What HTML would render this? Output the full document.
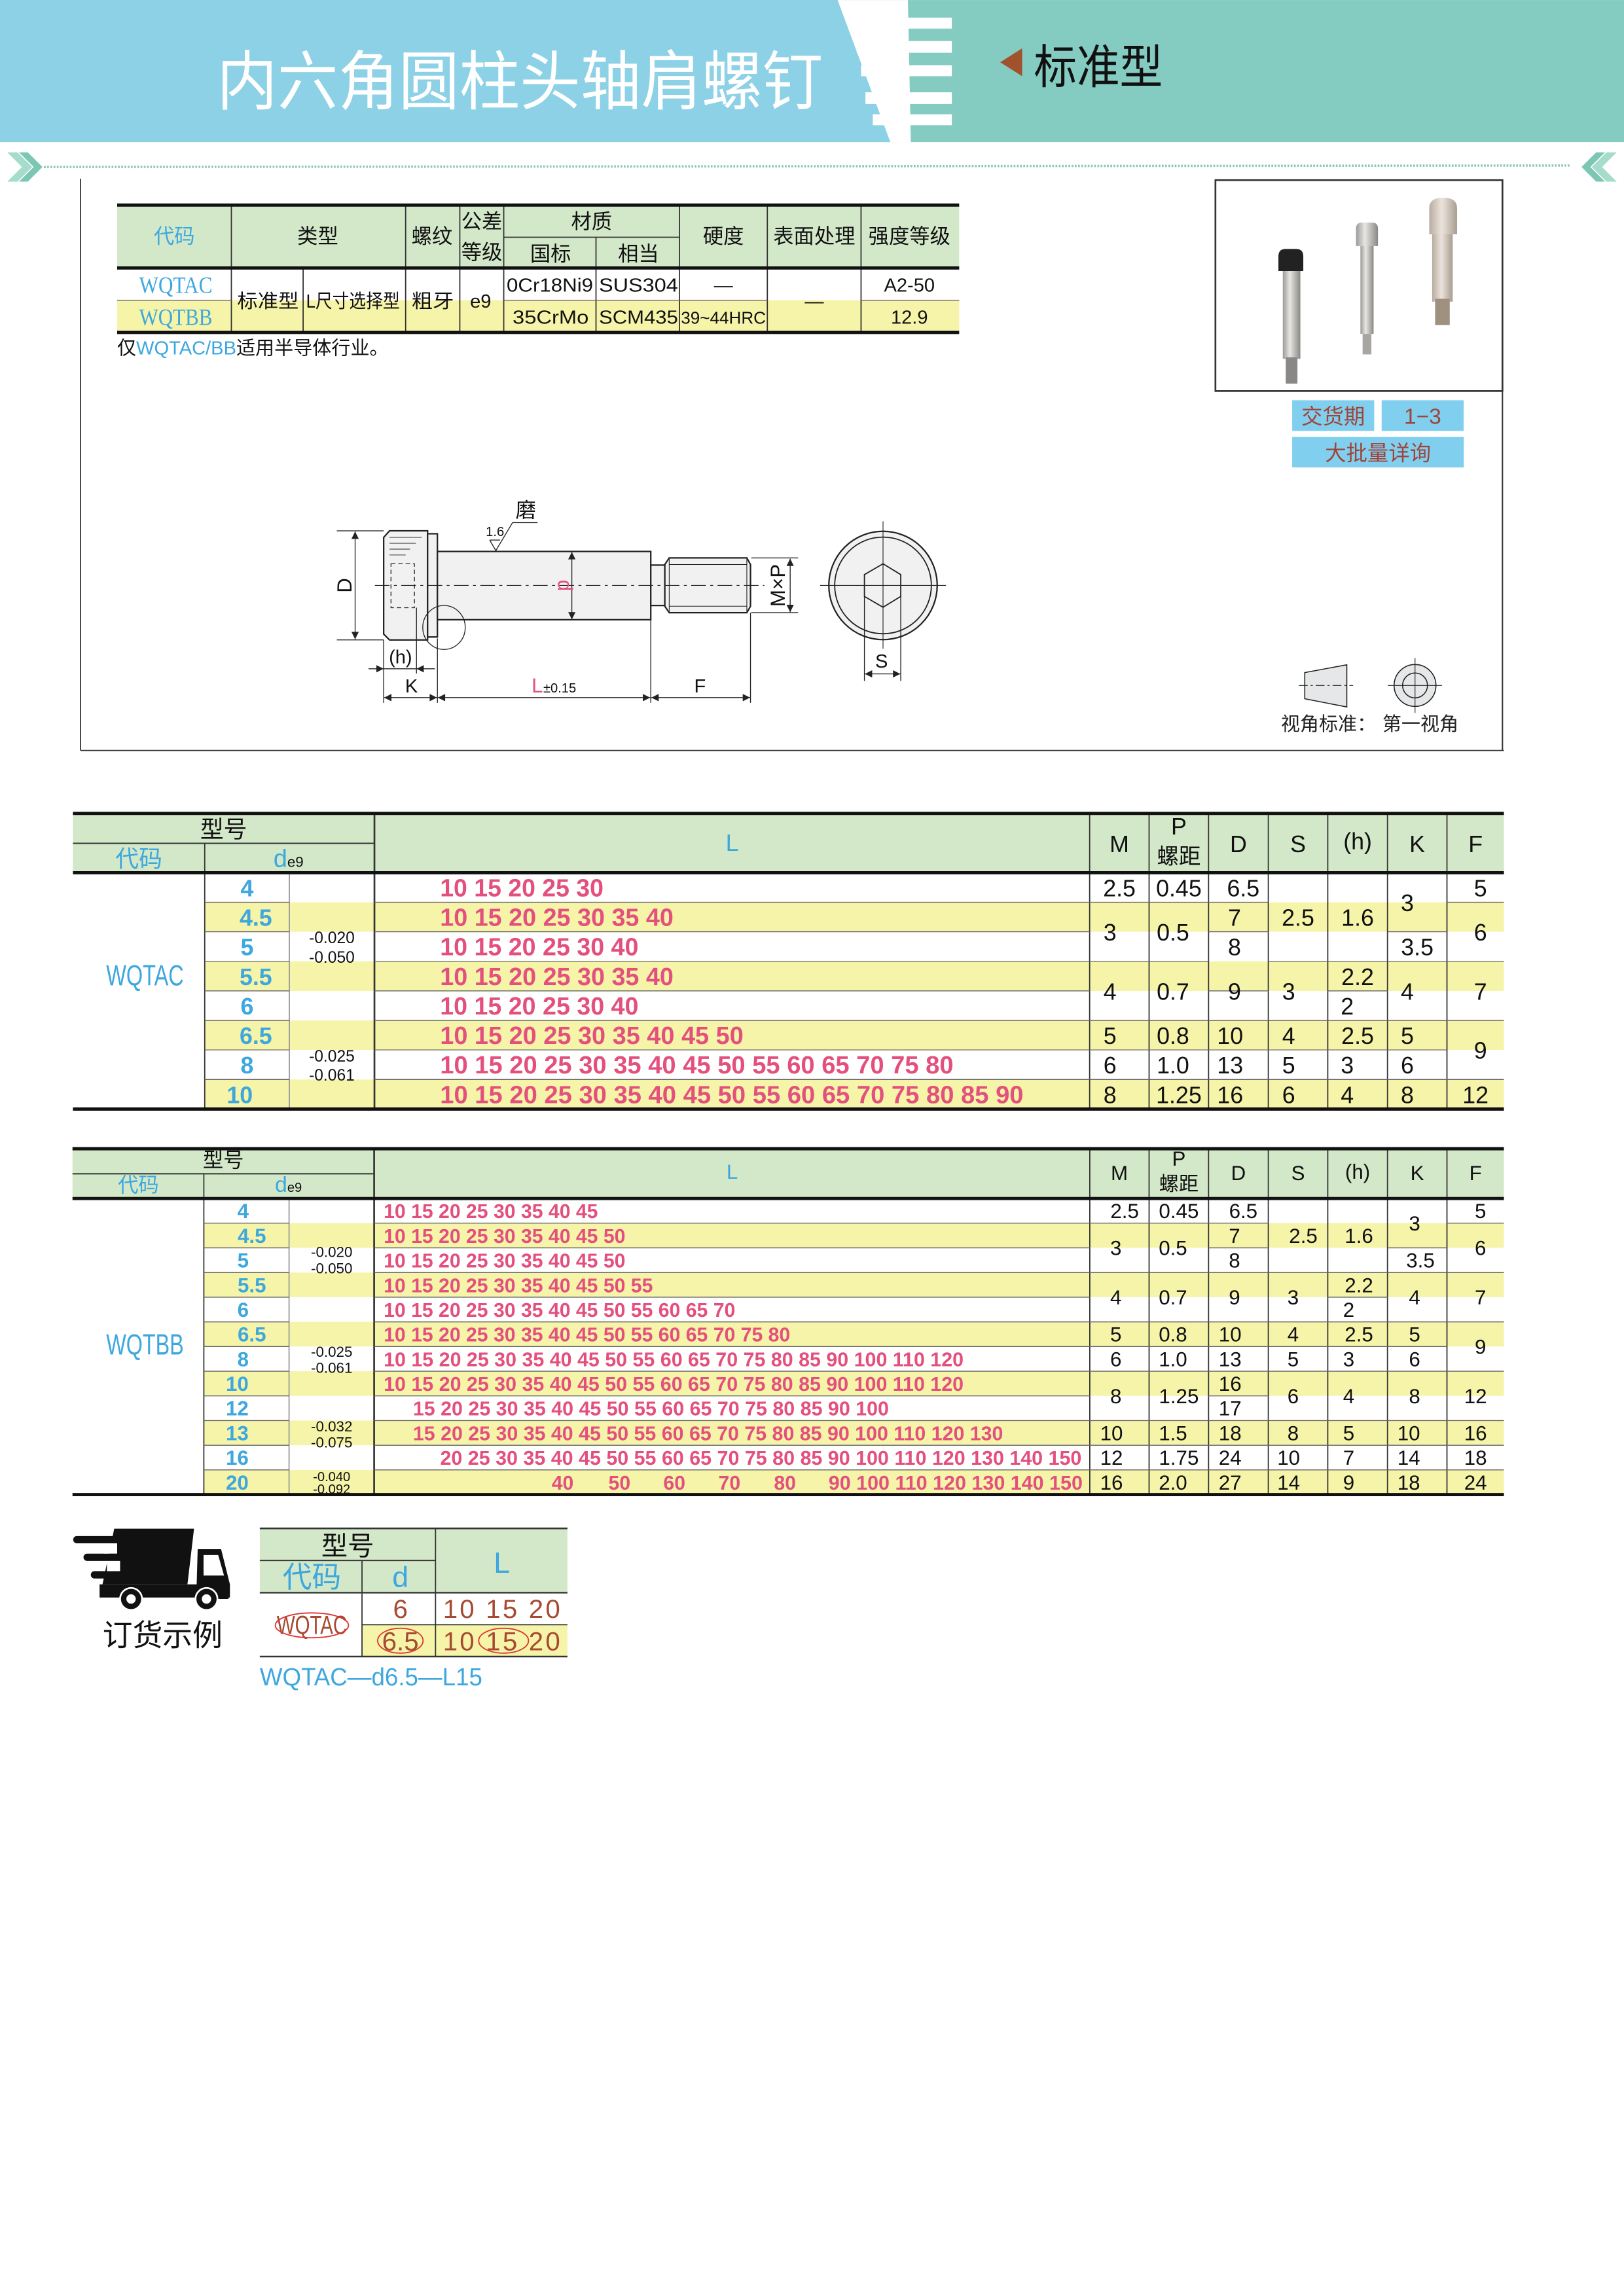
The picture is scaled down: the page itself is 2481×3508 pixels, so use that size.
<!DOCTYPE html>
<html><head><meta charset="utf-8">
<style>
html,body{margin:0;padding:0;background:#fff;width:2481px;height:3508px;overflow:hidden}
svg{display:block}
text{font-family:"Liberation Sans","Noto Sans CJK SC",sans-serif}
.b{fill:#3ea7de}
.pk{fill:#e4507e;font-weight:bold}
.br{fill:#a64a32}
.c{text-anchor:middle}
.tl{stroke:#666;stroke-width:0.6}
.tv{stroke:#333;stroke-width:0.8}
.th{stroke:#111;stroke-width:2.2}
.dl{stroke:#222;stroke-width:0.8;fill:none}
</style></head><body>
<svg width="2481" height="3508" viewBox="0 0 1109 1568" xmlns="http://www.w3.org/2000/svg">
<defs>
<marker id="ar" viewBox="0 0 10 10" refX="10" refY="5" markerWidth="7" markerHeight="5" orient="auto-start-reverse" markerUnits="userSpaceOnUse"><path d="M0,0 L10,5 L0,10 z" fill="#222"/></marker>
<linearGradient id="met" x1="0" x2="1"><stop offset="0" stop-color="#9a9a98"/><stop offset="0.4" stop-color="#e8e6e2"/><stop offset="1" stop-color="#8a8886"/></linearGradient>
<linearGradient id="met2" x1="0" x2="1"><stop offset="0" stop-color="#b8aca0"/><stop offset="0.45" stop-color="#ece4dc"/><stop offset="1" stop-color="#a89c90"/></linearGradient>
</defs>

<!-- HEADER -->
<rect x="0" y="0" width="1109" height="97" fill="#84cbc1"/>
<polygon points="0,0 572,0 608,97 0,97" fill="#8dd1e6"/>
<polygon points="572,0 620,0 622,97 608,97" fill="#fff"/>
<g fill="#fff">
<rect x="583" y="12" width="67" height="7.5"/>
<rect x="585" y="28" width="65" height="8"/>
<rect x="588" y="44.5" width="62" height="7.5"/>
<rect x="591" y="63" width="59" height="8"/>
<rect x="596" y="78" width="54" height="7.5"/>
</g>
<text x="148" y="71" font-size="44" fill="#fff" textLength="414" lengthAdjust="spacingAndGlyphs">内六角圆柱头轴肩螺钉</text>
<polygon points="698,33 683,42.5 698,52" fill="#a0522d"/>
<text x="706" y="57" font-size="32" fill="#111" textLength="88" lengthAdjust="spacingAndGlyphs">标准型</text>

<!-- dotted separator -->
<line x1="30" y1="114" x2="1072" y2="113" stroke="#8cc8b0" stroke-width="1.6" stroke-dasharray="1.2,1"/>
<polygon points="5,104 12,104 22,114 12,124 5,124 15,114" fill="#a6dccb"/>
<polygon points="13,104 19,104 29,114 19,124 13,124 23,114" fill="#7cc6b4"/>
<polygon points="1104,104 1097,104 1087,114 1097,124 1104,124 1094,114" fill="#a6dccb"/>
<polygon points="1096,104 1090,104 1080,114 1090,124 1096,124 1086,114" fill="#7cc6b4"/>

<!-- frame -->
<line x1="55" y1="122" x2="55" y2="512.5" stroke="#333" stroke-width="0.8"/>
<line x1="55" y1="512.5" x2="1027" y2="512.5" stroke="#333" stroke-width="0.8"/>
<line x1="1026" y1="123" x2="1026" y2="512.5" stroke="#333" stroke-width="0.9"/>
<rect x="830" y="123" width="196" height="144" fill="none" stroke="#333" stroke-width="1.2"/>

<!-- photos -->
<rect x="876" y="185" width="12" height="60" fill="url(#met)"/>
<rect x="878" y="244" width="8" height="18" fill="#8a8886"/>
<path d="M873,185 L873,175 Q873,170 878,170 L885,170 Q890,170 890,175 L890,185 Z" fill="#222"/>
<rect x="929" y="166" width="9" height="62" fill="url(#met)"/>
<rect x="930.5" y="228" width="6" height="14" fill="#a8a6a2"/>
<path d="M926,168 L926,156 Q926,152 930,152 L937,152 Q941,152 941,156 L941,168 Z" fill="url(#met)"/>
<rect x="978" y="158" width="14" height="48" fill="url(#met2)"/>
<rect x="980" y="204" width="10" height="18" fill="#a09080"/>
<path d="M976,160 L976,142 Q976,135 985.5,135 Q995,135 995,142 L995,160 Z" fill="url(#met2)"/>

<!-- delivery -->
<rect x="882.4" y="273.3" width="56" height="21" fill="#80cfee"/>
<rect x="943.5" y="273.3" width="56" height="21" fill="#80cfee"/>
<rect x="882.4" y="298.4" width="117.2" height="20.8" fill="#80cfee"/>
<text x="910.4" y="289.5" font-size="14.5" class="c" fill="#a0443a">交货期</text>
<text x="971.5" y="289.5" font-size="15" class="c" fill="#a0443a">1−3</text>
<text x="941" y="314.5" font-size="14.5" class="c" fill="#a0443a">大批量详询</text>

<!-- view symbol -->
<polygon points="891,459.3 919.7,454 919.7,482.8 891,477.2" fill="#e6e7e8" stroke="#222" stroke-width="0.7"/>
<line x1="887" y1="468.1" x2="924" y2="468.1" stroke="#222" stroke-width="0.5" stroke-dasharray="6,2,1.5,2"/>
<circle cx="966.3" cy="468.1" r="14.3" fill="#e6e7e8" stroke="#222" stroke-width="0.7"/>
<circle cx="966.3" cy="468.1" r="8.5" fill="none" stroke="#222" stroke-width="0.7"/>
<line x1="947.7" y1="468.1" x2="984.7" y2="468.1" stroke="#222" stroke-width="0.5"/>
<line x1="966.3" y1="449.3" x2="966.3" y2="486.8" stroke="#222" stroke-width="0.5"/>
<text x="874.7" y="498.8" font-size="13" fill="#222">视角标准：</text>
<text x="944" y="498.8" font-size="13" fill="#222">第一视角</text>

<!-- TOP TABLE -->
<rect x="80" y="140" width="575" height="43" fill="#d3e8c9"/>
<rect x="80" y="205" width="575" height="22" fill="#f6f4a9"/>
<g class="tv">
<line x1="158" y1="140" x2="158" y2="227"/><line x1="277" y1="140" x2="277" y2="227"/>
<line x1="314" y1="140" x2="314" y2="227"/><line x1="344" y1="140" x2="344" y2="227"/>
<line x1="464" y1="140" x2="464" y2="227"/><line x1="524" y1="140" x2="524" y2="227"/>
<line x1="588" y1="140" x2="588" y2="227"/><line x1="207" y1="183" x2="207" y2="227"/>
<line x1="407" y1="162" x2="407" y2="227"/>
<line x1="344" y1="162" x2="464" y2="162"/>
</g>
<g class="tl">
<line x1="80" y1="205" x2="158" y2="205"/><line x1="344" y1="205" x2="524" y2="205"/><line x1="588" y1="205" x2="655" y2="205"/>
</g>
<g class="th"><line x1="80" y1="140" x2="655" y2="140"/><line x1="80" y1="183" x2="655" y2="183"/><line x1="80" y1="227" x2="655" y2="227"/></g>
<g font-size="14" class="c" fill="#111">
<text x="119" y="166" class="b">代码</text>
<text x="217" y="166">类型</text><text x="295" y="166">螺纹</text>
<text x="329" y="156">公差</text><text x="329" y="177">等级</text>
<text x="404" y="156">材质</text><text x="376" y="178">国标</text><text x="436" y="178">相当</text>
<text x="494" y="166">硬度</text><text x="556" y="166">表面处理</text><text x="621" y="166">强度等级</text>
</g>
<text x="95" y="200" font-size="16" class="b" font-family="Liberation Serif" textLength="50" lengthAdjust="spacingAndGlyphs" style="font-family:'Liberation Serif',serif">WQTAC</text>
<text x="95" y="222" font-size="16" class="b" textLength="50" lengthAdjust="spacingAndGlyphs" style="font-family:'Liberation Serif',serif">WQTBB</text>
<g font-size="13" fill="#111">
<text x="162" y="210" textLength="42" lengthAdjust="spacingAndGlyphs">标准型</text>
<text x="209" y="210" textLength="64" lengthAdjust="spacingAndGlyphs">L尺寸选择型</text>
<text x="281" y="210" textLength="29" lengthAdjust="spacingAndGlyphs">粗牙</text>
<text x="321" y="210">e9</text>
<text x="346" y="199" textLength="59" lengthAdjust="spacingAndGlyphs">0Cr18Ni9</text>
<text x="409" y="199" textLength="54" lengthAdjust="spacingAndGlyphs">SUS304</text>
<text x="494" y="199" class="c">—</text>
<text x="556" y="210" class="c">—</text>
<text x="621" y="199" class="c">A2-50</text>
<text x="350" y="221" textLength="52" lengthAdjust="spacingAndGlyphs">35CrMo</text>
<text x="409" y="221" textLength="54" lengthAdjust="spacingAndGlyphs">SCM435</text>
<text x="465" y="221" font-size="11.5" textLength="58" lengthAdjust="spacingAndGlyphs">39~44HRC</text>
<text x="621" y="221" class="c">12.9</text>
</g>
<text x="80" y="242" font-size="13" fill="#111">仅<tspan class="b">WQTAC/BB</tspan>适用半导体行业。</text>

<!-- DRAWING -->
<g class="dl">
<polygon points="262,367 266,362.5 292,362.5 292,437 266,437 262,433" fill="#f1f1f1" stroke-width="1"/>
<rect x="292" y="364.5" width="6.7" height="70.5" fill="#f1f1f1" stroke-width="1"/>
<rect x="267" y="385" width="16" height="30" stroke-dasharray="3,2" stroke-width="0.6"/>
<line x1="266" y1="367" x2="288" y2="367" stroke-width="0.4"/>
<line x1="266" y1="371" x2="284" y2="371" stroke-width="0.4"/>
<line x1="266" y1="375" x2="280" y2="375" stroke-width="0.4"/>
<line x1="266" y1="379" x2="277" y2="379" stroke-width="0.4"/>
<rect x="298.7" y="376.6" width="145.7" height="46.6" fill="#f1f1f1" stroke-width="1"/>
<rect x="444.4" y="385.9" width="9.6" height="27.6" fill="#f1f1f1" stroke-width="1"/>
<polygon points="454,385.5 457,381 510,381 512.5,385.5 512.5,414 510,418.4 457,418.4 454,414" fill="#f1f1f1" stroke-width="1"/>
<line x1="457" y1="385.5" x2="510" y2="385.5" stroke-width="0.4"/>
<line x1="457" y1="414" x2="510" y2="414" stroke-width="0.4"/>
<line x1="457" y1="381" x2="457" y2="418.4" stroke-width="0.5"/>
<line x1="510" y1="381" x2="510" y2="418.4" stroke-width="0.5"/>
<line x1="256" y1="399.8" x2="522" y2="399.8" stroke-width="0.5" stroke-dasharray="10,3,2,3"/>
<ellipse cx="303.2" cy="428.5" rx="14.5" ry="15" stroke-width="0.6"/>
<!-- roughness -->
<polyline points="334.4,368.8 338.6,376 350,356.9 367.1,356.9" stroke-width="0.6"/>
<line x1="334.4" y1="368.8" x2="341.5" y2="368.8" stroke-width="0.6"/>
<!-- d -->
<line x1="390.5" y1="377" x2="390.5" y2="423" marker-start="url(#ar)" marker-end="url(#ar)" stroke-width="0.6"/>
<!-- D -->
<line x1="230" y1="362.5" x2="262" y2="362.5" stroke-width="0.6"/>
<line x1="230" y1="437" x2="262" y2="437" stroke-width="0.6"/>
<line x1="242.5" y1="363" x2="242.5" y2="436.5" marker-start="url(#ar)" marker-end="url(#ar)" stroke-width="0.6"/>
<!-- MxP -->
<line x1="513" y1="381" x2="545" y2="381" stroke-width="0.6"/>
<line x1="513" y1="418.4" x2="545" y2="418.4" stroke-width="0.6"/>
<line x1="539.6" y1="381.5" x2="539.6" y2="418" marker-start="url(#ar)" marker-end="url(#ar)" stroke-width="0.6"/>
<!-- extension -->
<line x1="262" y1="437" x2="262" y2="480" stroke-width="0.6"/>
<line x1="298.7" y1="436" x2="298.7" y2="480" stroke-width="0.6"/>
<line x1="444.4" y1="423" x2="444.4" y2="480" stroke-width="0.6"/>
<line x1="512.5" y1="418.4" x2="512.5" y2="480" stroke-width="0.6"/>
<line x1="284.4" y1="415" x2="284.4" y2="460" stroke-width="0.6"/>
<line x1="251.7" y1="456.7" x2="262" y2="456.7" marker-end="url(#ar)" stroke-width="0.6"/>
<line x1="262" y1="456.7" x2="284.4" y2="456.7" stroke-width="0.6"/>
<line x1="297" y1="456.7" x2="284.4" y2="456.7" marker-end="url(#ar)" stroke-width="0.6"/>
<line x1="262.3" y1="476.4" x2="298.4" y2="476.4" marker-start="url(#ar)" marker-end="url(#ar)" stroke-width="0.6"/>
<line x1="299" y1="476.4" x2="444" y2="476.4" marker-start="url(#ar)" marker-end="url(#ar)" stroke-width="0.6"/>
<line x1="444.8" y1="476.4" x2="512.2" y2="476.4" marker-start="url(#ar)" marker-end="url(#ar)" stroke-width="0.6"/>
<!-- end view -->
<circle cx="603" cy="399.8" r="37" fill="#f1f1f1" stroke-width="1"/>
<circle cx="603" cy="399.8" r="33" stroke-width="0.8"/>
<polygon points="603,385 615.1,392.4 615.1,407.3 603,414.7 590.3,407.3 590.3,392.4" stroke-width="0.8"/>
<line x1="560" y1="399.8" x2="646" y2="399.8" stroke-width="0.5"/>
<line x1="603" y1="356" x2="603" y2="443" stroke-width="0.5"/>
<line x1="590.3" y1="407" x2="590.3" y2="465" stroke-width="0.6"/>
<line x1="615.1" y1="407" x2="615.1" y2="465" stroke-width="0.6"/>
<line x1="590.6" y1="460.2" x2="602.7" y2="460.2" marker-start="url(#ar)" stroke-width="0.6"/>
<line x1="602.7" y1="460.2" x2="614.8" y2="460.2" marker-end="url(#ar)" stroke-width="0.6"/>
</g>
<g fill="#111">
<text x="0" y="0" font-size="14" transform="translate(240,399.8) rotate(-90)" class="c">D</text>
<text x="0" y="0" font-size="14" transform="translate(536,399.8) rotate(-90)" class="c">M×P</text>
<text x="0" y="0" font-size="14" fill="#e4507e" transform="translate(381,399.8) rotate(90)" class="c">d</text>
<text x="338" y="366" font-size="9" class="c">1.6</text>
<text x="359" y="353" font-size="14" class="c">磨</text>
<text x="273.5" y="453" font-size="13" class="c">(h)</text>
<text x="281" y="473" font-size="13" class="c">K</text>
<text x="363" y="473" font-size="14" fill="#e4507e">L</text>
<text x="371" y="473" font-size="9">±0.15</text>
<text x="478" y="473" font-size="13" class="c">F</text>
<text x="602" y="456" font-size="13" class="c">S</text>
</g>

<!-- TABLE 1 -->
<rect x="49.8" y="555.5" width="977.2" height="40.5" fill="#d3e8c9"/>
<g fill="#f6f4a9">
<rect x="139.8" y="616.2" width="887.2" height="20.1"/>
<rect x="139.8" y="656.5" width="887.2" height="20.2"/>
<rect x="139.8" y="696.9" width="887.2" height="20.1"/>
<rect x="139.8" y="737.2" width="887.2" height="20.2"/>
</g>
<g class="tv">
<line x1="139.8" y1="575.9" x2="139.8" y2="757.4"/><line x1="197.6" y1="596" x2="197.6" y2="757.4" style="stroke:#999"/>
<line x1="255.7" y1="555.5" x2="255.7" y2="757.4" style="stroke-width:1.2"/>
<line x1="744.1" y1="555.5" x2="744.1" y2="757.4"/><line x1="784.7" y1="555.5" x2="784.7" y2="757.4"/>
<line x1="825.3" y1="555.5" x2="825.3" y2="757.4"/><line x1="866.1" y1="555.5" x2="866.1" y2="757.4"/>
<line x1="906.7" y1="555.5" x2="906.7" y2="757.4"/><line x1="947.5" y1="555.5" x2="947.5" y2="757.4"/>
<line x1="988.1" y1="555.5" x2="988.1" y2="757.4"/>
</g>
<g class="tl">
<line x1="49.8" y1="575.9" x2="255.7" y2="575.9" style="stroke:#333;stroke-width:0.9"/>
<!-- d and L column lines -->
<path d="M139.8 616.2H197.6M139.8 636.3H197.6M139.8 656.5H197.6M139.8 676.7H197.6M139.8 696.9H197.6M139.8 717H197.6M139.8 737.2H197.6"/>
<path d="M255.7 616.2H744.1M255.7 636.3H744.1M255.7 656.5H744.1M255.7 676.7H744.1M255.7 696.9H744.1M255.7 717H744.1M255.7 737.2H744.1"/>
<!-- M,P -->
<path d="M744.1 616.2H825.3M744.1 656.5H825.3M744.1 696.9H825.3M744.1 717H825.3M744.1 737.2H825.3"/>
<!-- D -->
<path d="M825.3 616.2H866.1M825.3 636.3H866.1M825.3 676.7H866.1M825.3 696.9H866.1M825.3 717H866.1M825.3 737.2H866.1"/>
<!-- S -->
<path d="M866.1 656.5H906.7M866.1 696.9H906.7M866.1 717H906.7M866.1 737.2H906.7"/>
<!-- h -->
<path d="M906.7 656.5H947.5M906.7 676.7H947.5M906.7 696.9H947.5M906.7 717H947.5M906.7 737.2H947.5"/>
<!-- K -->
<path d="M947.5 636.3H988.1M947.5 656.5H988.1M947.5 696.9H988.1M947.5 717H988.1M947.5 737.2H988.1"/>
<!-- F -->
<path d="M988.1 616.2H1027M988.1 656.5H1027M988.1 696.9H1027M988.1 737.2H1027"/>
</g>
<g class="th"><line x1="49.8" y1="555.5" x2="1027" y2="555.5"/><line x1="49.8" y1="596" x2="1027" y2="596"/><line x1="49.8" y1="757.4" x2="1027" y2="757.4"/></g>
<g font-size="16" class="c" fill="#111">
<text x="152.7" y="572">型号</text>
<text x="94.8" y="592" class="b">代码</text>
<text x="197" y="592" class="b" font-size="17">d<tspan font-size="10" fill="#111">e9</tspan></text>
<text x="500" y="581" class="b">L</text>
<text x="764.4" y="582">M</text><text x="805" y="570">P</text><text x="805" y="590" font-size="15">螺距</text>
<text x="845.7" y="582">D</text><text x="886.4" y="582">S</text><text x="927.1" y="580">(h)</text>
<text x="967.8" y="582">K</text><text x="1007.6" y="582">F</text>
</g>
<text x="99" y="673" font-size="20" class="b c" textLength="53" lengthAdjust="spacingAndGlyphs">WQTAC</text>
<g font-size="16" font-weight="bold" class="b c">
<text x="168.7" y="612.1">4</text><text x="174.7" y="632.3">4.5</text><text x="168.7" y="652.4">5</text>
<text x="174.7" y="672.6">5.5</text><text x="168.7" y="692.8">6</text><text x="174.7" y="713">6.5</text>
<text x="168.7" y="733.1">8</text><text x="163.7" y="753.3">10</text>
</g>
<g font-size="11" class="c" fill="#111">
<text x="226.6" y="644">-0.020</text><text x="226.6" y="657.5">-0.050</text>
<text x="226.6" y="725">-0.025</text><text x="226.6" y="738">-0.061</text>
</g>
<g font-size="17" class="pk" lengthAdjust="spacingAndGlyphs">
<text x="300.5" y="612.1" textLength="111.6" lengthAdjust="spacingAndGlyphs">10 15 20 25 30</text>
<text x="300.5" y="632.3" textLength="159.4" lengthAdjust="spacingAndGlyphs">10 15 20 25 30 35 40</text>
<text x="300.5" y="652.4" textLength="135.5" lengthAdjust="spacingAndGlyphs">10 15 20 25 30 40</text>
<text x="300.5" y="672.6" textLength="159.4" lengthAdjust="spacingAndGlyphs">10 15 20 25 30 35 40</text>
<text x="300.5" y="692.8" textLength="135.5" lengthAdjust="spacingAndGlyphs">10 15 20 25 30 40</text>
<text x="300.5" y="713" textLength="207.2" lengthAdjust="spacingAndGlyphs">10 15 20 25 30 35 40 45 50</text>
<text x="300.5" y="733.1" textLength="350.6" lengthAdjust="spacingAndGlyphs">10 15 20 25 30 35 40 45 50 55 60 65 70 75 80</text>
<text x="300.5" y="753.3" textLength="398.4" lengthAdjust="spacingAndGlyphs">10 15 20 25 30 35 40 45 50 55 60 65 70 75 80 85 90</text>
</g>
<g font-size="16" class="c" fill="#111">
<text x="764.4" y="612.1">2.5</text><text x="758" y="642.3">3</text><text x="758" y="682.7">4</text><text x="758" y="713">5</text><text x="758" y="733.1">6</text><text x="758" y="753.3">8</text>
<text x="805" y="612.1">0.45</text><text x="801" y="642.3">0.5</text><text x="801" y="682.7">0.7</text><text x="801" y="713">0.8</text><text x="801" y="733.1">1.0</text><text x="805" y="753.3">1.25</text>
<text x="849" y="612.1">6.5</text><text x="843" y="632.3">7</text><text x="843" y="652.4">8</text><text x="843" y="682.7">9</text><text x="840" y="713">10</text><text x="840" y="733.1">13</text><text x="840" y="753.3">16</text>
<text x="886.4" y="632.3">2.5</text><text x="880" y="682.7">3</text><text x="880" y="713">4</text><text x="880" y="733.1">5</text><text x="880" y="753.3">6</text>
<text x="927.1" y="632.3">1.6</text><text x="927.1" y="672.6">2.2</text><text x="920" y="692.8">2</text><text x="927.1" y="713">2.5</text><text x="920" y="733.1">3</text><text x="920" y="753.3">4</text>
<text x="961" y="622.2">3</text><text x="967.8" y="652.4">3.5</text><text x="961" y="682.7">4</text><text x="961" y="713">5</text><text x="961" y="733.1">6</text><text x="961" y="753.3">8</text>
<text x="1011" y="612.1">5</text><text x="1011" y="642.3">6</text><text x="1011" y="682.7">7</text><text x="1011" y="723">9</text><text x="1007.6" y="753.3">12</text>
</g>

<!-- TABLE 2 -->
<rect x="49.5" y="784.5" width="977.5" height="34" fill="#d3e8c9"/>
<g fill="#f6f4a9">
<rect x="139.2" y="835.35" width="887.8" height="16.85"/>
<rect x="139.2" y="869.05" width="887.8" height="16.85"/>
<rect x="139.2" y="902.75" width="887.8" height="16.85"/>
<rect x="139.2" y="936.45" width="887.8" height="16.85"/>
<rect x="139.2" y="970.15" width="887.8" height="16.85"/>
<rect x="139.2" y="1003.85" width="887.8" height="16.85"/>
</g>
<g class="tv">
<line x1="139.2" y1="801.6" x2="139.2" y2="1020.7"/><line x1="197.4" y1="818.5" x2="197.4" y2="1020.7" style="stroke:#999"/>
<line x1="255.5" y1="784.5" x2="255.5" y2="1020.7" style="stroke-width:1.2"/>
<line x1="744.2" y1="784.5" x2="744.2" y2="1020.7"/><line x1="784.7" y1="784.5" x2="784.7" y2="1020.7"/>
<line x1="825.3" y1="784.5" x2="825.3" y2="1020.7"/><line x1="866.1" y1="784.5" x2="866.1" y2="1020.7"/>
<line x1="906.7" y1="784.5" x2="906.7" y2="1020.7"/><line x1="947.5" y1="784.5" x2="947.5" y2="1020.7"/>
<line x1="988.1" y1="784.5" x2="988.1" y2="1020.7"/>
</g>
<g class="tl">
<line x1="49.5" y1="801.6" x2="255.5" y2="801.6" style="stroke:#333;stroke-width:0.9"/>
<path d="M139.2 835.35H197.4M139.2 852.2H197.4M139.2 869.05H197.4M139.2 885.9H197.4M139.2 902.75H197.4M139.2 919.6H197.4M139.2 936.45H197.4M139.2 953.3H197.4M139.2 970.15H197.4M139.2 987H197.4M139.2 1003.85H197.4"/>
<path d="M255.5 835.35H744.2M255.5 852.2H744.2M255.5 869.05H744.2M255.5 885.9H744.2M255.5 902.75H744.2M255.5 919.6H744.2M255.5 936.45H744.2M255.5 953.3H744.2M255.5 970.15H744.2M255.5 987H744.2M255.5 1003.85H744.2"/>
<!-- M,P: r1,r3,r5,r6,r7,r9,r10,r11 -->
<path d="M744.2 835.35H825.3M744.2 869.05H825.3M744.2 902.75H825.3M744.2 919.6H825.3M744.2 936.45H825.3M744.2 970.15H825.3M744.2 987H825.3M744.2 1003.85H825.3"/>
<!-- D: r1,r2,r3,r5..r11 -->
<path d="M825.3 835.35H866.1M825.3 852.2H866.1M825.3 869.05H866.1M825.3 902.75H866.1M825.3 919.6H866.1M825.3 936.45H866.1M825.3 953.3H866.1M825.3 970.15H866.1M825.3 987H866.1M825.3 1003.85H866.1"/>
<!-- S: r3,r5,r6,r7,r9,r10,r11 -->
<path d="M866.1 869.05H906.7M866.1 902.75H906.7M866.1 919.6H906.7M866.1 936.45H906.7M866.1 970.15H906.7M866.1 987H906.7M866.1 1003.85H906.7"/>
<!-- h: r3,r4,r5,r6,r7,r9,r10,r11 -->
<path d="M906.7 869.05H947.5M906.7 885.9H947.5M906.7 902.75H947.5M906.7 919.6H947.5M906.7 936.45H947.5M906.7 970.15H947.5M906.7 987H947.5M906.7 1003.85H947.5"/>
<!-- K: r2,r3,r5,r6,r7,r9,r10,r11 -->
<path d="M947.5 852.2H988.1M947.5 869.05H988.1M947.5 902.75H988.1M947.5 919.6H988.1M947.5 936.45H988.1M947.5 970.15H988.1M947.5 987H988.1M947.5 1003.85H988.1"/>
<!-- F: r1,r3,r5,r7,r9,r10,r11 -->
<path d="M988.1 835.35H1027M988.1 869.05H1027M988.1 902.75H1027M988.1 936.45H1027M988.1 970.15H1027M988.1 987H1027M988.1 1003.85H1027"/>
</g>
<g class="th"><line x1="49.5" y1="784.5" x2="1027" y2="784.5"/><line x1="49.5" y1="818.5" x2="1027" y2="818.5"/><line x1="49.5" y1="1020.7" x2="1027" y2="1020.7"/></g>
<g font-size="14" class="c" fill="#111">
<text x="152.5" y="797">型号</text>
<text x="94.5" y="814" class="b">代码</text>
<text x="197" y="814" class="b" font-size="15">d<tspan font-size="9" fill="#111">e9</tspan></text>
<text x="500" y="805" class="b">L</text>
<text x="764.4" y="806">M</text><text x="805" y="796">P</text><text x="805" y="813" font-size="13.5">螺距</text>
<text x="845.7" y="806">D</text><text x="886.4" y="806">S</text><text x="927.1" y="805">(h)</text>
<text x="967.8" y="806">K</text><text x="1007.6" y="806">F</text>
</g>
<text x="99" y="925" font-size="20" class="b c" textLength="53" lengthAdjust="spacingAndGlyphs">WQTBB</text>
<g font-size="14" font-weight="bold" class="b c">
<text x="166" y="831.9">4</text><text x="172" y="848.8">4.5</text><text x="166" y="865.6">5</text><text x="172" y="882.5">5.5</text>
<text x="166" y="899.3">6</text><text x="172" y="916.2">6.5</text><text x="166" y="933">8</text><text x="162" y="949.9">10</text>
<text x="162" y="966.7">12</text><text x="162" y="983.6">13</text><text x="162" y="1000.4">16</text><text x="162" y="1017.3">20</text>
</g>
<g font-size="10" class="c" fill="#111">
<text x="226.5" y="858.5">-0.020</text><text x="226.5" y="869.5">-0.050</text>
<text x="226.5" y="926.5">-0.025</text><text x="226.5" y="937.5">-0.061</text>
<text x="226.5" y="977.5">-0.032</text><text x="226.5" y="988.5">-0.075</text>
<text x="226.5" y="1011.5" font-size="9">-0.040</text><text x="226.5" y="1020" font-size="9">-0.092</text>
</g>
<g font-size="13.5" class="pk">
<text x="262" y="831.9">10 15 20 25 30 35 40 45</text>
<text x="262" y="848.8">10 15 20 25 30 35 40 45 50</text>
<text x="262" y="865.6">10 15 20 25 30 35 40 45 50</text>
<text x="262" y="882.5">10 15 20 25 30 35 40 45 50 55</text>
<text x="262" y="899.3">10 15 20 25 30 35 40 45 50 55 60 65 70</text>
<text x="262" y="916.2">10 15 20 25 30 35 40 45 50 55 60 65 70 75 80</text>
<text x="262" y="933" textLength="396" lengthAdjust="spacingAndGlyphs">10 15 20 25 30 35 40 45 50 55 60 65 70 75 80 85 90 100 110 120</text>
<text x="262" y="949.9" textLength="396" lengthAdjust="spacingAndGlyphs">10 15 20 25 30 35 40 45 50 55 60 65 70 75 80 85 90 100 110 120</text>
<text x="282" y="966.7" textLength="325" lengthAdjust="spacingAndGlyphs">15 20 25 30 35 40 45 50 55 60 65 70 75 80 85 90 100</text>
<text x="282" y="983.6" textLength="403" lengthAdjust="spacingAndGlyphs">15 20 25 30 35 40 45 50 55 60 65 70 75 80 85 90 100 110 120 130</text>
<text x="300.6" y="1000.4" textLength="438" lengthAdjust="spacingAndGlyphs">20 25 30 35 40 45 50 55 60 65 70 75 80 85 90 100 110 120 130 140 150</text>
<text x="376.7" y="1017.3">40</text><text x="415.5" y="1017.3">50</text><text x="453" y="1017.3">60</text>
<text x="490.6" y="1017.3">70</text><text x="528.5" y="1017.3">80</text>
<text x="565.8" y="1017.3" textLength="173.5" lengthAdjust="spacingAndGlyphs">90 100 110 120 130 140 150</text>
</g>
<g font-size="14" class="c" fill="#111">
<text x="768" y="831.9">2.5</text><text x="762" y="857.2">3</text><text x="762" y="890.9">4</text><text x="762" y="916.2">5</text><text x="762" y="933">6</text><text x="762" y="958.3">8</text><text x="759" y="983.6">10</text><text x="759" y="1000.4">12</text><text x="759" y="1017.3">16</text>
<text x="805" y="831.9">0.45</text><text x="801" y="857.2">0.5</text><text x="801" y="890.9">0.7</text><text x="801" y="916.2">0.8</text><text x="801" y="933">1.0</text><text x="805" y="958.3">1.25</text><text x="801" y="983.6">1.5</text><text x="805" y="1000.4">1.75</text><text x="801" y="1017.3">2.0</text>
<text x="849" y="831.9">6.5</text><text x="843" y="848.8">7</text><text x="843" y="865.6">8</text><text x="843" y="890.9">9</text><text x="840" y="916.2">10</text><text x="840" y="933">13</text><text x="840" y="949.9">16</text><text x="840" y="966.7">17</text><text x="840" y="983.6">18</text><text x="840" y="1000.4">24</text><text x="840" y="1017.3">27</text>
<text x="890" y="848.8">2.5</text><text x="883" y="890.9">3</text><text x="883" y="916.2">4</text><text x="883" y="933">5</text><text x="883" y="958.3">6</text><text x="883" y="983.6">8</text><text x="880" y="1000.4">10</text><text x="880" y="1017.3">14</text>
<text x="928" y="848.8">1.6</text><text x="928" y="882.5">2.2</text><text x="921" y="899.3">2</text><text x="928" y="916.2">2.5</text><text x="921" y="933">3</text><text x="921" y="958.3">4</text><text x="921" y="983.6">5</text><text x="921" y="1000.4">7</text><text x="921" y="1017.3">9</text>
<text x="966" y="840.4">3</text><text x="970" y="865.6">3.5</text><text x="966" y="890.9">4</text><text x="966" y="916.2">5</text><text x="966" y="933">6</text><text x="966" y="958.3">8</text><text x="962" y="983.6">10</text><text x="962" y="1000.4">14</text><text x="962" y="1017.3">18</text>
<text x="1011" y="831.9">5</text><text x="1011" y="857.2">6</text><text x="1011" y="890.9">7</text><text x="1011" y="924.6">9</text><text x="1007.6" y="958.3">12</text><text x="1007.6" y="983.6">16</text><text x="1007.6" y="1000.4">18</text><text x="1007.6" y="1017.3">24</text>
</g>

<!-- ORDER EXAMPLE -->
<g fill="#111">
<polygon points="78,1044 132.5,1044 128,1082 70,1082"/>
<rect x="50" y="1049" width="40" height="5" rx="2.5"/>
<rect x="57" y="1061" width="40" height="5" rx="2.5"/>
<rect x="62" y="1073" width="35" height="5" rx="2.5"/>
<polygon points="135,1058 151,1058 157,1082 156,1092 134,1092"/>
<rect x="68" y="1082" width="89" height="9"/>
</g>
<g fill="#fff">
<rect x="71" y="1054" width="9" height="7"/>
<rect x="73" y="1066" width="9" height="7"/>
<polygon points="139,1062 149,1062 153,1076 139,1076"/>
</g>
<circle cx="89.5" cy="1092" r="7.5" fill="#111" stroke="#fff" stroke-width="1.2"/><circle cx="89.5" cy="1092" r="3.2" fill="#fff"/>
<circle cx="141" cy="1092" r="7.5" fill="#111" stroke="#fff" stroke-width="1.2"/><circle cx="141" cy="1092" r="3.2" fill="#fff"/>
<text x="111" y="1124" font-size="20.5" class="c" fill="#111">订货示例</text>

<rect x="177.4" y="1043.8" width="210.1" height="43.9" fill="#d3e8c9"/>
<rect x="247.2" y="1109.6" width="140.3" height="21.7" fill="#f6f4a9"/>
<g class="tv">
<line x1="177.4" y1="1043.8" x2="387.5" y2="1043.8" style="stroke-width:1.2"/>
<line x1="177.4" y1="1065.7" x2="297.4" y2="1065.7"/>
<line x1="177.4" y1="1087.7" x2="387.5" y2="1087.7" style="stroke-width:1.1"/>
<line x1="247.2" y1="1065.7" x2="247.2" y2="1131.3"/>
<line x1="297.4" y1="1043.8" x2="297.4" y2="1131.3"/>
<line x1="247.2" y1="1109.6" x2="387.5" y2="1109.6"/>
<line x1="177.4" y1="1131.3" x2="387.5" y2="1131.3" style="stroke-width:1.1"/>
</g>
<text x="237.4" y="1062" font-size="18" class="c" fill="#111">型号</text>
<text x="213" y="1084" font-size="20" class="b c">代码</text>
<text x="273.4" y="1084" font-size="20" class="b c">d</text>
<text x="342.7" y="1074" font-size="20" class="b c">L</text>
<text x="213" y="1116" font-size="18" class="br c" textLength="48" lengthAdjust="spacingAndGlyphs">WQTAC</text>
<ellipse cx="213" cy="1110" rx="25" ry="8.5" fill="none" stroke="#d33" stroke-width="0.8"/>
<text x="273.4" y="1105" font-size="18" class="br c">6</text>
<text x="342.5" y="1105" font-size="18" class="br c" textLength="80" lengthAdjust="spacing">10  15  20</text>
<text x="273.4" y="1127" font-size="18" class="br c">6.5</text>
<ellipse cx="273.4" cy="1120.5" rx="15.5" ry="8.5" fill="none" stroke="#d33" stroke-width="0.8"/>
<text x="342.5" y="1127" font-size="18" class="br c" textLength="80" lengthAdjust="spacing">10 15 20</text>
<ellipse cx="343.9" cy="1120.5" rx="17" ry="8.5" fill="none" stroke="#d33" stroke-width="0.8"/>
<text x="177.4" y="1151" font-size="17" class="b" textLength="152" lengthAdjust="spacingAndGlyphs">WQTAC—d6.5—L15</text>
</svg>
</body></html>
